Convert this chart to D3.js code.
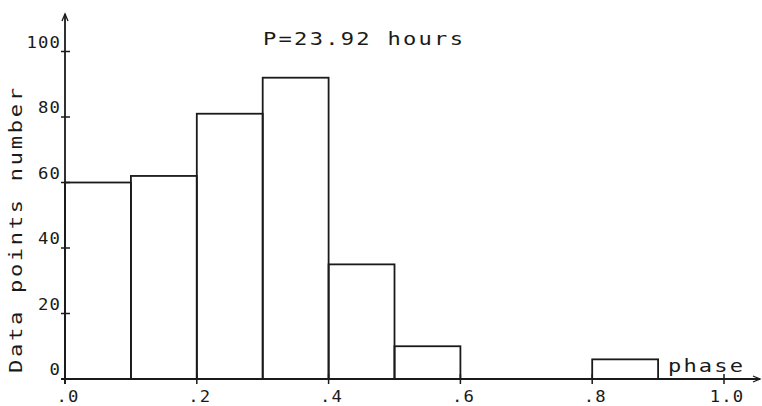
<html>
<head>
<meta charset="utf-8">
<script src="https://d3js.org/d3.v7.min.js"></script>
<style>
  body { margin: 0; background: #fff; }
  svg text { font-family: "DejaVu Sans Mono", monospace; fill: #1a1a1a; }
</style>
</head>
<body>
<div id="chart"></div>
<script>
// histogram of data points per phase bin
var binStart = [0.0, 0.1, 0.2, 0.3, 0.4, 0.5, 0.6, 0.7, 0.8, 0.9];
var counts = [60, 62, 81, 92, 35, 10, 0, 0, 6, 0];
var binWidth = 0.1;

var xTicks = [0.0, 0.2, 0.4, 0.6, 0.8, 1.0];
var xTickLabels = [".0", ".2", ".4", ".6", ".8", "1.0"];
var yTicks = [0, 20, 40, 60, 80, 100];
var yTickLabels = ["0", "20", "40", "60", "80", "100"];

var width = 762, height = 406;
var ink = "#1a1a1a";
var stretch = 1.3; // plotter glyphs are wider than the font's

var svg = d3.select("#chart")
  .append("svg")
    .attr("width", width)
    .attr("height", height);

var x = d3.scaleLinear().domain([0, 1]).range([65, 724]);
var y = d3.scaleLinear().domain([0, 100]).range([379, 51.5]);

// bars
svg.selectAll("rect.bar")
  .data(binStart.map(function(s, i) { return {s: s, v: counts[i]}; }).filter(function(d) { return d.v > 0; }))
  .enter()
  .append("rect")
    .attr("class", "bar")
    .attr("x", function(d) { return x(d.s); })
    .attr("y", function(d) { return y(d.v); })
    .attr("width", function(d) { return x(d.s + binWidth) - x(d.s); })
    .attr("height", function(d) { return y(0) - y(d.v); })
    .attr("fill", "none")
    .attr("stroke", ink)
    .attr("stroke-width", 1.8);

// x axis line with arrow
svg.append("line")
  .attr("x1", x(0) - 4).attr("x2", 760)
  .attr("y1", y(0)).attr("y2", y(0))
  .attr("stroke", ink).attr("stroke-width", 1.8);
svg.append("path")
  .attr("d", "M" + 753 + "," + (y(0) - 3) + " L760," + y(0) + " L753," + (y(0) + 3))
  .attr("fill", "none").attr("stroke", ink).attr("stroke-width", 1.3);

// y axis line with arrow
svg.append("line")
  .attr("x1", x(0)).attr("x2", x(0))
  .attr("y1", y(0) + 5).attr("y2", 14)
  .attr("stroke", ink).attr("stroke-width", 1.8);
svg.append("path")
  .attr("d", "M" + (x(0) - 3) + ",21 L" + x(0) + ",14 L" + (x(0) + 3) + ",21")
  .attr("fill", "none").attr("stroke", ink).attr("stroke-width", 1.3);

// x ticks
svg.selectAll("line.xtick")
  .data(xTicks)
  .enter()
  .append("line")
    .attr("x1", function(d) { return x(d); })
    .attr("x2", function(d) { return x(d); })
    .attr("y1", y(0) - 5)
    .attr("y2", y(0) + 5)
    .attr("stroke", ink).attr("stroke-width", 1.5);

svg.selectAll("text.xlab")
  .data(xTicks)
  .enter()
  .append("text")
    .attr("transform", function(d) { return "translate(" + (x(d) + 3) + ",402) scale(1.15,1)"; })
    .attr("text-anchor", "middle")
    .style("font-size", "15px")
    .style("letter-spacing", "1px")
    .text(function(d, i) { return xTickLabels[i]; });

// y ticks
svg.selectAll("line.ytick")
  .data(yTicks)
  .enter()
  .append("line")
    .attr("x1", x(0) - 4)
    .attr("x2", x(0) + 5)
    .attr("y1", function(d) { return y(d); })
    .attr("y2", function(d) { return y(d); })
    .attr("stroke", ink).attr("stroke-width", 1.5);

svg.selectAll("text.ylab")
  .data(yTicks)
  .enter()
  .append("text")
    .attr("transform", function(d) { return "translate(61," + (y(d) - 4) + ") scale(1.15,1)"; })
    .attr("text-anchor", "end")
    .style("font-size", "15px")
    .style("letter-spacing", "1px")
    .text(function(d, i) { return yTickLabels[i]; });

// title
svg.append("text")
  .attr("transform", "translate(263,45) scale(" + stretch + ",1)")
  .attr("textLength", 200 / stretch)
  .attr("lengthAdjust", "spacing")
  .style("font-size", "17px")
  .text("P=23.92 hours");

// axis labels
svg.append("text")
  .attr("transform", "translate(22,373) rotate(-90) scale(" + stretch + ",1)")
  .attr("textLength", 285 / stretch)
  .attr("lengthAdjust", "spacing")
  .style("font-size", "17px")
  .text("Data points number");

svg.append("text")
  .attr("transform", "translate(668,372) scale(" + stretch + ",1)")
  .attr("textLength", 75 / stretch)
  .attr("lengthAdjust", "spacing")
  .style("font-size", "17px")
  .text("phase");
</script>
</body>
</html>
